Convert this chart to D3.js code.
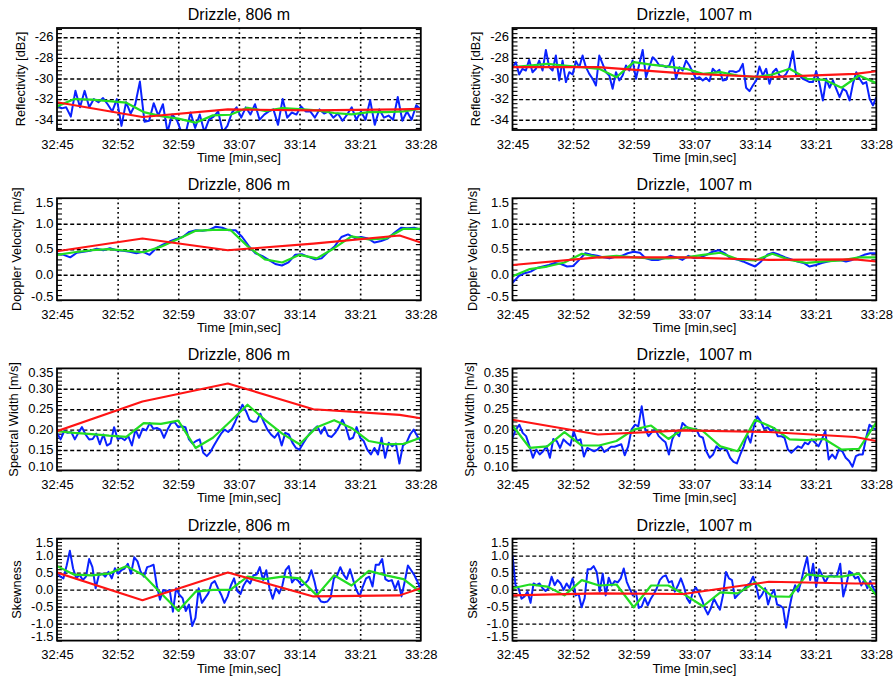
<!DOCTYPE html>
<html>
<head>
<meta charset="utf-8">
<script src="https://cdn.jsdelivr.net/npm/d3@7"></script>
<style>
body { margin: 0; background: #fff; }
svg { display: block; }
text { font-family: "Liberation Sans", Arial, Helvetica, sans-serif; fill: #000; }
</style>
</head>
<body>
<script>
const width = 894, height = 679

//Time axis (seconds after 32:45)
const duration = 43
const timeLabels = ["32:45", "32:52", "32:59", "33:07", "33:14", "33:21", "33:28"]
const smoothTimes = [0, 2.05, 4.10, 6.14, 8.19, 10.24, 12.29, 14.33, 16.38, 18.43, 20.48, 22.52, 24.57, 26.62, 28.67, 30.71, 32.76, 34.81, 36.86, 38.90, 40.95, 43]
const trendTimes = [0, 10.1, 20.2, 30.3, 40.5, 43]

const panelTitles = ["Drizzle, 806 m", "Drizzle,  1007 m"]

//Y ticks
const reflTicks = [-34, -32, -30, -28, -26]
const velTicks = [-0.5, 0.0, 0.5, 1.0, 1.5]
const widthTicks = [0.10, 0.15, 0.20, 0.25, 0.30, 0.35]
const skewTicks = [-1.5, -1.0, -0.5, 0.0, 0.5, 1.0, 1.5]

//Reflectivity [dBz]
const refl806 = [-32.6,-32.9,-32.8,-33.7,-31.2,-32.8,-31.2,-32.8,-32.0,-32.3,-31.9,-32.5,-33.2,-32.0,-34.6,-32.3,-33.4,-32.5,-30.3,-34.2,-34.1,-32.4,-33.6,-32.5,-35.2,-33.5,-34.0,-35.2,-35.2,-33.3,-34.8,-33.5,-35.2,-34.0,-33.7,-33.2,-35.2,-34.6,-33.3,-32.8,-33.8,-32.8,-33.5,-32.5,-34.0,-33.5,-33.2,-33.0,-34.5,-32.0,-33.8,-33.3,-33.5,-32.7,-33.2,-33.2,-33.8,-33.0,-33.4,-33.2,-33.8,-33.4,-34.1,-33.5,-32.8,-34.0,-33.2,-34.0,-32.1,-34.5,-33.0,-33.8,-33.6,-34.0,-31.8,-34.1,-33.2,-34.0,-32.6,-33.0]
const refl806Smooth = [-32.71,-32.0,-32.06,-32.19,-32.35,-33.26,-33.65,-33.9,-34.29,-33.58,-33.52,-32.84,-33.16,-32.87,-32.97,-33.1,-33.35,-33.48,-33.26,-33.26,-33.19,-32.94]
const refl806Trend = [-32.3, -33.74, -33.0, -33.1, -33.0, -32.95]

const refl1007 = [-28.90,-28.42,-29.61,-29.06,-29.23,-28.19,-29.39,-29.06,-28.26,-29.23,-27.23,-28.90,-29.23,-27.77,-30.19,-28.26,-30.35,-29.39,-29.61,-28.32,-28.90,-27.77,-28.90,-29.55,-30.03,-30.68,-27.77,-28.58,-29.39,-29.71,-31.0,-29.39,-30.19,-29.71,-28.74,-29.23,-28.26,-30.03,-28.58,-27.23,-29.87,-28.90,-27.94,-28.26,-28.74,-28.74,-28.90,-28.74,-27.87,-30.03,-28.90,-29.23,-28.26,-28.74,-29.39,-30.03,-29.87,-30.19,-29.94,-30.26,-29.06,-29.39,-29.16,-30.19,-30.13,-29.29,-29.29,-29.39,-29.23,-28.58,-30.90,-31.23,-30.68,-30.19,-28.84,-29.71,-29.06,-30.52,-29.39,-29.06,-29.71,-29.87,-29.55,-28.90,-27.35,-29.71,-29.71,-30.03,-30.19,-30.35,-30.35,-29.29,-30.52,-32.13,-30.03,-30.90,-30.19,-31.0,-31.81,-31.0,-31.23,-32.13,-30.52,-29.39,-30.03,-30.52,-30.35,-31.97,-32.61,-31.81]
const refl1007Smooth = [-28.90,-28.74,-28.58,-28.74,-28.90,-29.06,-29.87,-28.42,-28.65,-28.84,-29.06,-29.55,-29.39,-29.71,-29.87,-29.61,-29.06,-30.03,-30.13,-30.90,-29.71,-30.45]
const refl1007Trend = [-28.9, -28.9, -29.5, -29.87, -29.55, -29.3]

//Doppler velocity [m/s]
const vel806 = [0.41,0.39,0.34,0.43,0.45,0.47,0.51,0.48,0.52,0.48,0.47,0.45,0.42,0.45,0.39,0.52,0.59,0.65,0.70,0.74,0.84,0.87,0.86,0.88,0.94,0.92,0.87,0.87,0.74,0.56,0.42,0.37,0.29,0.21,0.18,0.24,0.39,0.40,0.35,0.30,0.32,0.45,0.56,0.74,0.79,0.72,0.74,0.71,0.63,0.66,0.71,0.82,0.92,0.91,0.92,0.88]
const vel806Smooth = [0.39,0.44,0.48,0.50,0.47,0.44,0.55,0.70,0.86,0.88,0.88,0.56,0.30,0.24,0.39,0.32,0.52,0.75,0.69,0.71,0.90,0.90]
const vel806Trend = [0.46, 0.71, 0.48, 0.61, 0.77, 0.63]

const vel1007 = [-0.16,-0.03,0.03,0.06,0.13,0.16,0.19,0.23,0.21,0.16,0.17,0.29,0.42,0.39,0.37,0.34,0.32,0.35,0.37,0.42,0.45,0.43,0.32,0.29,0.29,0.32,0.37,0.34,0.29,0.37,0.32,0.34,0.39,0.45,0.48,0.42,0.32,0.30,0.26,0.21,0.16,0.26,0.39,0.43,0.39,0.34,0.30,0.26,0.23,0.16,0.19,0.23,0.26,0.28,0.29,0.26,0.29,0.34,0.39,0.42,0.42]
const vel1007Smooth = [-0.03,0.11,0.16,0.24,0.41,0.34,0.37,0.34,0.32,0.32,0.34,0.39,0.43,0.30,0.28,0.41,0.29,0.23,0.26,0.28,0.34,0.34]
const vel1007Trend = [0.19, 0.34, 0.34, 0.29, 0.30, 0.26]

//Spectral width [m/s]
const width806 = [0.192,0.176,0.196,0.192,0.194,0.176,0.192,0.206,0.188,0.176,0.177,0.190,0.164,0.188,0.161,0.166,0.206,0.177,0.180,0.174,0.184,0.161,0.200,0.180,0.202,0.198,0.216,0.202,0.204,0.200,0.180,0.200,0.216,0.218,0.206,0.208,0.206,0.176,0.166,0.172,0.176,0.143,0.135,0.145,0.161,0.176,0.190,0.200,0.194,0.202,0.220,0.241,0.261,0.245,0.224,0.219,0.220,0.239,0.218,0.200,0.188,0.180,0.192,0.161,0.192,0.188,0.168,0.155,0.151,0.166,0.180,0.192,0.200,0.208,0.190,0.206,0.185,0.182,0.192,0.206,0.224,0.206,0.176,0.180,0.206,0.180,0.172,0.151,0.139,0.155,0.139,0.180,0.131,0.168,0.159,0.166,0.117,0.161,0.168,0.188,0.200,0.184,0.172]
const width806Smooth = [0.196,0.192,0.189,0.185,0.182,0.216,0.214,0.222,0.155,0.180,0.220,0.261,0.224,0.190,0.164,0.206,0.223,0.204,0.172,0.164,0.165,0.180]
const width806Trend = [0.196, 0.269, 0.313, 0.250, 0.236, 0.228]

const width1007 = [0.180,0.200,0.212,0.192,0.184,0.159,0.131,0.151,0.139,0.147,0.159,0.131,0.177,0.172,0.155,0.176,0.168,0.161,0.196,0.172,0.176,0.134,0.155,0.151,0.147,0.151,0.159,0.145,0.151,0.158,0.158,0.161,0.164,0.137,0.158,0.200,0.212,0.208,0.257,0.202,0.184,0.194,0.200,0.184,0.176,0.169,0.139,0.176,0.194,0.184,0.216,0.208,0.202,0.196,0.202,0.184,0.180,0.147,0.131,0.139,0.159,0.151,0.155,0.150,0.131,0.121,0.117,0.139,0.159,0.188,0.168,0.208,0.232,0.220,0.202,0.206,0.196,0.204,0.184,0.184,0.180,0.151,0.143,0.151,0.159,0.155,0.168,0.164,0.176,0.168,0.159,0.176,0.196,0.127,0.139,0.129,0.151,0.147,0.131,0.123,0.109,0.135,0.139,0.139,0.180,0.212,0.204,0.200]
const width1007Smooth = [0.210,0.155,0.159,0.194,0.161,0.161,0.172,0.200,0.210,0.177,0.206,0.196,0.159,0.147,0.224,0.206,0.176,0.174,0.177,0.151,0.153,0.218]
const width1007Trend = [0.224, 0.188, 0.198, 0.194, 0.182, 0.172]

//Skewness
const skew806 = [0.52,0.38,0.33,0.71,1.14,0.62,0.33,0.44,0.28,0.38,0.90,0.66,0.04,0.42,0.47,0.38,0.52,0.33,0.63,0.47,0.57,0.62,0.76,0.47,0.95,0.83,0.52,0.38,0.66,0.69,0.73,0.12,-0.30,-0.01,-0.06,-0.01,-0.65,0.04,-0.15,-0.25,-0.63,-0.44,-1.07,-0.83,0.04,-0.39,-0.25,-0.11,0.18,0.25,0.04,-0.15,-0.39,-0.20,0.12,0.33,-0.04,-0.13,0.13,0.28,0.18,0.42,0.44,0.66,0.28,0.57,0.04,-0.27,0.04,-0.11,0.12,0.57,0.69,0.21,0.33,0.25,0.12,0.18,0.28,0.57,0.23,-0.20,-0.35,-0.37,-0.35,-0.23,0.33,0.42,0.66,0.44,0.31,0.60,0.28,-0.01,-0.20,0.09,0.33,0.38,0.09,0.73,0.73,0.90,0.31,0.25,0.28,0.02,0.25,-0.20,0.23,0.71,0.57,0.42,0.23,-0.01]
const skew806Smooth = [0.69,0.44,0.42,0.47,0.69,0.42,-0.11,-0.62,-0.06,-0.01,-0.01,0.38,0.31,0.38,0.33,-0.17,0.42,0.12,0.55,0.42,0.31,-0.08]
const skew806Trend = [0.50, -0.31, 0.50, -0.20, -0.17, 0.04]

const skew1007 = [1.00,0.13,0.04,-0.27,-0.20,-0.06,-0.39,0.18,0.13,0.18,0.04,-0.04,0.04,0.38,0.13,0.28,0.18,-0.01,0.18,0.04,0.33,-0.17,-0.13,-0.52,-0.25,0.60,0.60,0.69,0.52,-0.06,0.47,-0.17,0.35,0.12,0.25,0.21,0.33,0.62,0.23,0.02,-0.17,-0.06,-0.54,-0.49,-0.25,-0.46,-0.27,-0.13,0.04,0.28,0.38,0.42,0.21,0.25,-0.06,0.12,0.33,0.09,-0.25,-0.39,-0.06,0.06,-0.11,-0.30,-0.56,-0.73,-0.54,-0.27,-0.44,-0.59,-0.17,0.52,0.33,0.28,-0.25,-0.15,-0.06,0.02,0.13,0.18,0.38,0.12,-0.27,-0.15,0.04,-0.44,-0.15,-0.01,-0.44,-0.47,-0.54,-1.12,-0.59,-0.15,0.13,-0.06,0.23,0.62,0.95,0.28,0.76,0.09,0.60,0.42,0.21,0.38,0.42,0.38,0.42,0.76,-0.20,0.13,0.54,0.47,0.33,0.38,0.12,0.28,0.04,0.25,0.04,-0.11]
const skew1007Smooth = [0.04,0.15,0.09,-0.17,0.28,0.12,0.15,-0.52,0.12,0.12,-0.17,-0.49,-0.08,-0.11,0.21,-0.20,-0.21,0.45,0.39,0.38,0.47,-0.17]
const skew1007Trend = [-0.17, -0.11, -0.13, 0.23, 0.18, 0.18]

//Rows of panels, built from the arrays above
const rows = [
    {label: "Reflectivity [dBz]", domain: [-35, -25.1], ticks: reflTicks, minor: 0.4, fmt: ".0f",
     series: [[refl806, refl806Smooth, refl806Trend], [refl1007, refl1007Smooth, refl1007Trend]]},
    {label: "Doppler Velocity [m/s]", domain: [-0.5, 1.5], ticks: velTicks, minor: 0.1, fmt: ".1f",
     series: [[vel806, vel806Smooth, vel806Trend], [vel1007, vel1007Smooth, vel1007Trend]]},
    {label: "Spectral Width [m/s]", domain: [0.10, 0.35], ticks: widthTicks, minor: 0.01, fmt: ".2f",
     series: [[width806, width806Smooth, width806Trend], [width1007, width1007Smooth, width1007Trend]]},
    {label: "Skewness", domain: [-1.5, 1.5], ticks: skewTicks, minor: 0.1, fmt: ".1f",
     series: [[skew806, skew806Smooth, skew806Trend], [skew1007, skew1007Smooth, skew1007Trend]]}
]

//Layout
const colX = [57, 512.5]
const plotW = 363.8
const rowTop = 28, rowStep = 170.2, plotH = 102
const colors = {raw: "#0a22ff", smooth: "#22dd22", trend: "#ff1414"}

const svg = d3.select("body").append("svg")
    .attr("width", width)
    .attr("height", height)

svg.append("rect").attr("width", width).attr("height", height).attr("fill", "#fff")

const x = d3.scaleLinear().domain([0, duration]).range([0, plotW])
const xTicks = timeLabels.map((d, i) => i * duration / (timeLabels.length - 1))

const line = d3.line().x(d => x(d[0])).y(d => d[1])

rows.forEach((row, r) => {
    const y = d3.scaleLinear().domain(row.domain).range([plotH, 0])
    const fmt = d3.format(row.fmt)
    const label = v => fmt(v).replace("\u2212", "-")
    const step = row.minor
    const minors = d3.range(Math.ceil(row.domain[0] / step - 1e-6), Math.floor(row.domain[1] / step + 1e-6) + 1).map(k => k * step)
    const innerY = row.ticks.filter(v => y(v) > 1 && y(v) < plotH - 1)

    row.series.forEach((ser, c) => {
        const g = svg.append("g").attr("transform", `translate(${colX[c]},${rowTop + r * rowStep})`)
        const clipId = `clip-${r}-${c}`
        g.append("clipPath").attr("id", clipId)
            .append("rect").attr("width", plotW).attr("height", plotH)

        //Horizontal dashed grid
        g.append("g")
            .call(d3.axisLeft(y).tickValues(innerY).tickSize(-plotW).tickFormat(""))
            .call(a => a.select(".domain").remove())
            .selectAll("line").attr("stroke", "#000").attr("stroke-width", 1.4).attr("stroke-dasharray", "4,2.6")

        //Vertical dotted grid
        g.append("g").attr("transform", `translate(0,${plotH})`)
            .call(d3.axisBottom(x).tickValues(xTicks.slice(1, -1)).tickSize(plotH).tickFormat(""))
            .call(a => a.select(".domain").remove())
            .selectAll("line").attr("y2", -plotH).attr("stroke", "#000").attr("stroke-width", 1.6).attr("stroke-dasharray", "1.8,3")

        //Minor ticks on both y sides
        g.append("g")
            .call(d3.axisLeft(y).tickValues(minors).tickSize(-5).tickFormat(""))
            .call(a => a.select(".domain").remove())
            .selectAll("line").attr("stroke", "#000").attr("stroke-width", 1.1)
        g.append("g").attr("transform", `translate(${plotW},0)`)
            .call(d3.axisRight(y).tickValues(minors).tickSize(-5).tickFormat(""))
            .call(a => a.select(".domain").remove())
            .selectAll("line").attr("stroke", "#000").attr("stroke-width", 1.1)

        //Data lines
        const lines = g.append("g").attr("clip-path", `url(#${clipId})`)
        const raw = ser[0].map((v, i) => [i * duration / (ser[0].length - 1), y(v)])
        const smooth = ser[1].map((v, i) => [smoothTimes[i], y(v)])
        const trend = ser[2].map((v, i) => [trendTimes[i], y(v)])
        lines.append("path").attr("d", line(raw)).attr("fill", "none")
            .attr("stroke", colors.raw).attr("stroke-width", 2).attr("stroke-linejoin", "round")
        lines.append("path").attr("d", line(smooth)).attr("fill", "none")
            .attr("stroke", colors.smooth).attr("stroke-width", 2.2).attr("stroke-linejoin", "round")
        lines.append("path").attr("d", line(trend)).attr("fill", "none")
            .attr("stroke", colors.trend).attr("stroke-width", 2.1).attr("stroke-linejoin", "round")

        //Frame
        g.append("rect").attr("width", plotW).attr("height", plotH)
            .attr("fill", "none").attr("stroke", "#000").attr("stroke-width", 1.8)

        //Y tick labels
        const yl = g.append("g")
            .call(d3.axisLeft(y).tickValues(row.ticks).tickSize(0).tickPadding(3.5).tickFormat(label))
            .call(a => a.select(".domain").remove())
        yl.selectAll(".tick").attr("transform", d => `translate(0,${Math.max(4.5, Math.min(plotH - 3.5, y(d)))})`)
        yl.selectAll("text").attr("font-size", 13).attr("font-family", null)

        //X tick labels
        const xl = g.append("g").attr("transform", `translate(0,${plotH})`)
            .call(d3.axisBottom(x).tickValues(xTicks).tickSize(0).tickFormat((d, i) => timeLabels[i]))
            .call(a => a.select(".domain").remove())
        xl.selectAll("text").attr("y", 18.5).attr("dy", 0).attr("font-size", 13).attr("font-family", null)

        //Axis titles
        g.append("text")
            .attr("x", plotW / 2).attr("y", plotH + 32)
            .attr("text-anchor", "middle").attr("font-size", 13)
            .text("Time [min,sec]")

        const labW = d3.max(yl.selectAll("text").nodes(), n => n.getComputedTextLength())
        g.append("text")
            .attr("transform", `translate(${-3.5 - labW - 14.5},${plotH / 2}) rotate(-90)`)
            .attr("text-anchor", "middle").attr("dominant-baseline", "central")
            .attr("font-size", 12.8)
            .text(row.label)

        //Panel title
        g.append("text")
            .attr("x", plotW / 2).attr("y", -8)
            .attr("text-anchor", "middle").attr("font-size", 16)
            .style("white-space", "pre")
            .text(panelTitles[c])
    })
})
</script>
</body>
</html>
